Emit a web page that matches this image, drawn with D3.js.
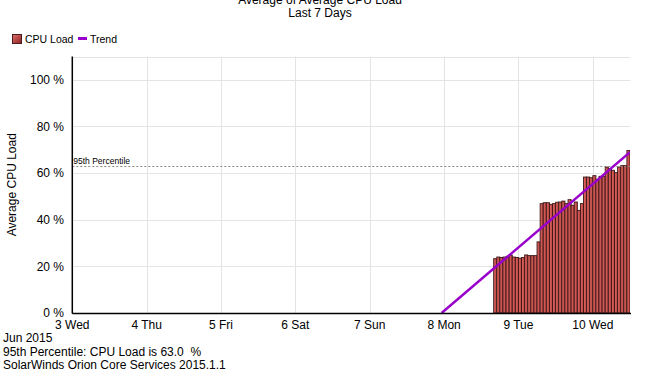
<!DOCTYPE html>
<html>
<head>
<meta charset="utf-8">
<script src="https://cdn.jsdelivr.net/npm/d3@7"></script>
<style>
  body { margin: 0; background: #fff; }
  svg { font-family: "Liberation Sans", Arial, sans-serif; }
</style>
</head>
<body>
<div id="chart"></div>
<script>
// hourly CPU load samples, first bar starts 2015-06-08 16:00 UTC
const firstSample = '2015-06-08T16:00:00Z'
const cpuLoad = [
  23.3, 24.0, 23.8, 24.0, 24.3, 24.8, 24.0, 23.8, 23.5, 23.8, 24.9, 24.6, 24.6, 24.6,
  30.5,
  46.9, 47.3, 47.3, 46.6, 46.9, 47.5, 47.6, 48.0, 46.9, 48.6, 46.2, 47.6, 44.0, 46.9,
  58.3, 58.3, 58.0, 58.9, 57.2, 58.6, 58.6,
  62.6, 61.9, 61.2, 60.2, 62.6, 63.2, 63.2,
  69.7
]
// trend line end points
const trendTimes = ['2015-06-07T23:12:00Z', '2015-06-10T12:00:00Z']
const trendValues = [0, 69.0]
const percentile95 = 63.0
const dayTicks = ['2015-06-03', '2015-06-04', '2015-06-05', '2015-06-06',
  '2015-06-07', '2015-06-08', '2015-06-09', '2015-06-10']
const yTicks = [0, 20, 40, 60, 80, 100]
const footerLines = [
  'Jun 2015',
  '95th Percentile: CPU Load is 63.0  %',
  'SolarWinds Orion Core Services 2015.1.1'
]

const width = 656
const height = 381
const margin = { top: 56.5, right: 26, bottom: 68, left: 72.3 }
const HOUR = 3600 * 1000

const svg = d3.select('#chart')
  .append('svg')
  .attr('width', width)
  .attr('height', height)

const x = d3.scaleUtc()
  .domain([new Date('2015-06-03T00:00:00Z'), new Date('2015-06-10T12:00:00Z')])
  .range([margin.left, width - margin.right])

const y = d3.scaleLinear()
  .domain([0, 110])
  .range([height - margin.bottom, margin.top])

const defs = svg.append('defs')
defs.append('clipPath').attr('id', 'plot-clip')
  .append('rect')
  .attr('x', margin.left)
  .attr('y', margin.top)
  .attr('width', width - margin.right - margin.left)
  .attr('height', height - margin.bottom - margin.top)

const grad = defs.append('linearGradient').attr('id', 'barGrad')
  .attr('x1', 0).attr('x2', 1).attr('y1', 0).attr('y2', 0)
grad.append('stop').attr('offset', '0%').attr('stop-color', '#e06a66')
grad.append('stop').attr('offset', '100%').attr('stop-color', '#b8403c')

const swatchGrad = defs.append('linearGradient').attr('id', 'swatchGrad')
  .attr('x1', 0).attr('x2', 1).attr('y1', 0).attr('y2', 1)
swatchGrad.append('stop').attr('offset', '0%').attr('stop-color', '#e07070')
swatchGrad.append('stop').attr('offset', '100%').attr('stop-color', '#8c2020')

// 标题
svg.append('text')
  .attr('x', 320).attr('y', 4)
  .attr('text-anchor', 'middle')
  .style('font-size', '12px')
  .text('Average of Average CPU Load')
svg.append('text')
  .attr('x', 320).attr('y', 17)
  .attr('text-anchor', 'middle')
  .style('font-size', '12px')
  .text('Last 7 Days')

// 图例
const legend = svg.append('g').attr('transform', 'translate(12,34)')
legend.append('rect')
  .attr('x', 0.5).attr('y', 0.5).attr('width', 9).attr('height', 9)
  .attr('fill', 'url(#swatchGrad)').attr('stroke', '#4a1c1c')
legend.append('text')
  .attr('x', 13).attr('y', 9)
  .style('font-size', '10.5px')
  .text('CPU Load')
legend.append('line')
  .attr('x1', 66).attr('x2', 75).attr('y1', 4.5).attr('y2', 4.5)
  .attr('stroke', '#9900cc').attr('stroke-width', 3)
legend.append('text')
  .attr('x', 78).attr('y', 9)
  .style('font-size', '10.5px')
  .text('Trend')

// 网格
const grid = svg.append('g')
grid.selectAll('line.h')
  .data(yTicks.concat([110]))
  .join('line')
  .attr('x1', margin.left).attr('x2', width - margin.right)
  .attr('y1', d => Math.round(y(d)) + 0.5).attr('y2', d => Math.round(y(d)) + 0.5)
  .attr('stroke', '#e4e4e4')
grid.selectAll('line.v')
  .data(dayTicks.slice(1))
  .join('line')
  .attr('x1', d => Math.round(x(new Date(d + 'T00:00:00Z'))) + 0.5)
  .attr('x2', d => Math.round(x(new Date(d + 'T00:00:00Z'))) + 0.5)
  .attr('y1', margin.top).attr('y2', height - margin.bottom)
  .attr('stroke', '#e4e4e4')

// 柱子
const plot = svg.append('g').attr('clip-path', 'url(#plot-clip)')
const t0 = new Date(firstSample).getTime()
plot.selectAll('rect.bar')
  .data(cpuLoad)
  .join('rect')
  .attr('class', 'bar')
  .attr('x', (d, i) => x(new Date(t0 + i * HOUR)))
  .attr('width', (d, i) => x(new Date(t0 + (i + 1) * HOUR)) - x(new Date(t0 + i * HOUR)))
  .attr('y', d => y(d))
  .attr('height', d => y(0) - y(d))
  .attr('fill', 'url(#barGrad)')
  .attr('stroke', '#3a1616')
  .attr('stroke-width', 0.9)

// 95th percentile
plot.append('line')
  .attr('x1', margin.left).attr('x2', width - margin.right)
  .attr('y1', Math.round(y(percentile95)) + 0.5).attr('y2', Math.round(y(percentile95)) + 0.5)
  .attr('stroke', '#888').attr('stroke-dasharray', '2,2')
svg.append('text')
  .attr('x', margin.left + 1).attr('y', y(percentile95) - 2)
  .style('font-size', '8.5px')
  .text('95th Percentile')

// 趋势线
const trendData = trendTimes.map((t, i) => ({ t: new Date(t), v: trendValues[i] }))
plot.append('path')
  .datum(trendData)
  .attr('fill', 'none')
  .attr('stroke', '#9900cc')
  .attr('stroke-width', 2.5)
  .attr('d', d3.line().x(d => x(d.t)).y(d => y(d.v)))

// 坐标轴
svg.append('line')
  .attr('x1', margin.left).attr('x2', margin.left)
  .attr('y1', margin.top).attr('y2', y(0) + 0.5)
  .attr('stroke', '#000').attr('stroke-width', 1.5)
svg.append('line')
  .attr('x1', margin.left).attr('x2', width - margin.right + 1)
  .attr('y1', y(0) + 0.5).attr('y2', y(0) + 0.5)
  .attr('stroke', '#000').attr('stroke-width', 1.5)

svg.append('g').selectAll('text')
  .data(yTicks)
  .join('text')
  .attr('x', 64).attr('y', d => y(d))
  .attr('dy', '0.35em')
  .attr('text-anchor', 'end')
  .style('font-size', '12px')
  .text(d => d + ' %')

const fmtDay = d3.utcFormat('%-d %a')
svg.append('g').selectAll('text')
  .data(dayTicks)
  .join('text')
  .attr('x', d => x(new Date(d + 'T00:00:00Z')))
  .attr('y', 329)
  .attr('text-anchor', 'middle')
  .style('font-size', '12px')
  .text(d => fmtDay(new Date(d + 'T00:00:00Z')))

svg.append('text')
  .attr('transform', `translate(16,${(margin.top + y(0)) / 2}) rotate(-90)`)
  .attr('text-anchor', 'middle')
  .style('font-size', '12px')
  .text('Average CPU Load')

// 页脚
svg.append('g').selectAll('text')
  .data(footerLines)
  .join('text')
  .attr('x', 3)
  .attr('y', (d, i) => 342 + i * 13.5)
  .style('font-size', '12px')
  .style('white-space', 'pre')
  .attr('fill', '#000')
  .text(d => d)
</script>
</body>
</html>
